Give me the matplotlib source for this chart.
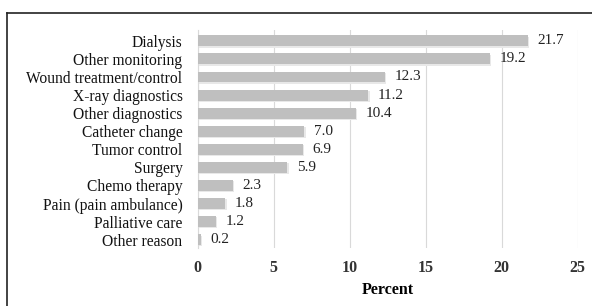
import matplotlib.pyplot as plt
from matplotlib.lines import Line2D

reasons = ['Dialysis', 'Other monitoring', 'Wound treatment/control', 'X-ray diagnostics',
           'Other diagnostics', 'Catheter change', 'Tumor control', 'Surgery',
           'Chemo therapy', 'Pain (pain ambulance)', 'Palliative care', 'Other reason']
percent = [21.7, 19.2, 12.3, 11.2, 10.4, 7.0, 6.9, 5.9, 2.3, 1.8, 1.2, 0.2]
ticks = [0, 5, 10, 15, 20, 25]

plt.rcParams['font.family'] = ['Liberation Serif', 'DejaVu Serif']

fig = plt.figure(figsize=(5.92, 3.06), dpi=100)
ax = fig.add_axes([0.334, 0.19, 0.642, 0.712])

pos = list(range(len(reasons)))
# soft shadow then bar
ax.barh([p + 0.07 for p in pos], percent, height=0.6, left=0.1, color='#e8e8e8', zorder=2)
ax.barh(pos, percent, height=0.6, color='#bfbfbf', zorder=3)
for p, v in zip(pos, percent):
    ax.text(v + 0.65, p, '%.1f' % v, va='center', ha='left', fontsize=11, color='#222222')

ax.set_yticks(pos)
ax.set_yticklabels(reasons, fontsize=11.2, color='#111111')
ax.set_ylim(11.45, -0.6)
ax.set_xlim(0, 25)
ax.set_xticks(ticks)
ax.set_xticklabels([str(t) for t in ticks], fontsize=11.5, fontweight='bold', color='#333333')
ax.tick_params(length=0)
ax.tick_params(axis='x', pad=9)
ax.tick_params(axis='y', pad=11)
ax.xaxis.grid(True, color='#d9d9d9', linewidth=0.8, zorder=0)
ax.set_axisbelow(True)
for s in ['top', 'right', 'bottom']:
    ax.spines[s].set_visible(False)
ax.spines['left'].set_color('#d9d9d9')
ax.set_xlabel('Percent', fontsize=11.5, fontweight='bold', labelpad=4)

# outer frame lines
fig.add_artist(Line2D([0.011, 1.0], [0.958, 0.958], color='#222222', linewidth=1.2))
fig.add_artist(Line2D([0.011, 0.011], [0.0, 0.958], color='#222222', linewidth=1.2))

fig.savefig('out.png', dpi=100)
